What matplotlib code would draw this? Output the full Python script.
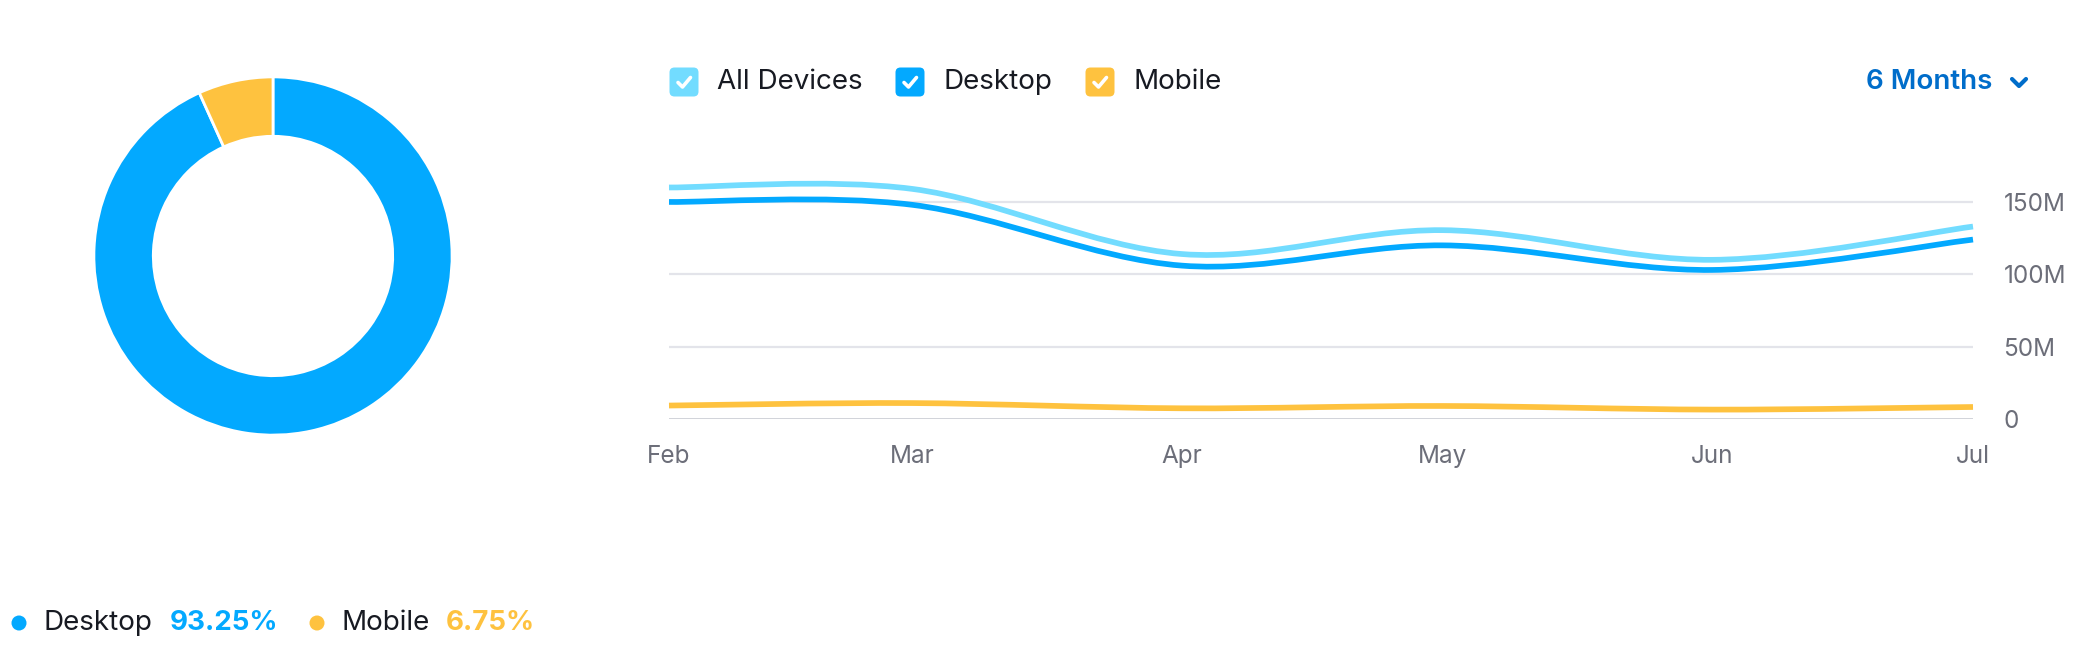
import matplotlib
matplotlib.use("Agg")
import matplotlib.pyplot as plt
import matplotlib.dates as mdates
from matplotlib.path import Path
from matplotlib.patches import PathPatch, FancyBboxPatch, Circle
import datetime as dt

plt.rcParams['font.family'] = ['Inter', 'DejaVu Sans']

# data
months = ["Feb", "Mar", "Apr", "May", "Jun", "Jul"]
month_dates = [dt.date(2025, m, 1) for m in range(2, 8)]
all_devices = [160, 159, 114, 130.5, 110, 133]   # millions
desktop = [150, 148, 106, 120, 103, 124]
mobile = [9.3, 11, 7.4, 9, 6.5, 8.3]
share_labels = ["Desktop", "Mobile"]
share_values = [93.25, 6.75]
y_ticks = [0, 50, 100, 150]
y_tick_labels = ["0", "50M", "100M", "150M"]

C_ALL = "#72DCFF"
C_DESK = "#03A9FF"
C_MOB = "#FEC23F"
C_TEXT = "#171A22"
C_GRAY = "#6C6E79"

W, H = 2098, 656
fig = plt.figure(figsize=(W / 100, H / 100), dpi=100)


def px_axes(left, top, width, height):
    return fig.add_axes([left / W, 1 - (top + height) / H, width / W, height / H])


def spline_path(xs, ys):
    # catmull-rom as cubic bezier segments
    n = len(xs)
    pts = list(zip(xs, ys))
    ext = [pts[0]] + pts + [pts[-1]]
    verts = [pts[0]]
    codes = [Path.MOVETO]
    for i in range(n - 1):
        p0, p1, p2, p3 = ext[i], ext[i + 1], ext[i + 2], ext[i + 3]
        c1 = (p1[0] + (p2[0] - p0[0]) / 6, p1[1] + (p2[1] - p0[1]) / 6)
        c2 = (p2[0] - (p3[0] - p1[0]) / 6, p2[1] - (p3[1] - p1[1]) / 6)
        verts += [c1, c2, p2]
        codes += [Path.CURVE4] * 3
    return Path(verts, codes)


# ---- line chart ----
ax = px_axes(669, 140, 1973 - 669, 279)
xnum = mdates.date2num(month_dates)
ax.set_xlim(xnum[0], xnum[-1])
ax.set_ylim(0, 279 / 1.447)
for y in y_ticks[1:]:
    ax.axhline(y, color="#E3E4EA", lw=1.6, zorder=0)
ax.axhline(0, color="#C4C6CE", lw=1.8, zorder=0)
for series, col in [(mobile, C_MOB), (all_devices, C_ALL), (desktop, C_DESK)]:
    ax.add_patch(PathPatch(spline_path(xnum, series), fill=False, edgecolor=col,
                           lw=4.1, capstyle="butt", clip_on=False, zorder=3))
for s in ax.spines.values():
    s.set_visible(False)
ax.set_xticks(xnum)
ax.set_xticklabels(months)
ax.set_yticks(y_ticks)
ax.set_yticklabels(y_tick_labels)
ax.yaxis.tick_right()
ax.tick_params(axis="both", length=0, labelsize=17.5, labelcolor=C_GRAY)
ax.tick_params(axis="x", pad=19)
ax.tick_params(axis="y", pad=22)
ax.patch.set_alpha(0)

# ---- donut ----
dax = px_axes(273 - 180, 256 - 180, 360, 360)
dax.pie(share_values, colors=[C_DESK, C_MOB], startangle=90, counterclock=False,
        radius=0.995, wedgeprops=dict(width=0.33, edgecolor="white", linewidth=2))
dax.set_xlim(-1, 1)
dax.set_ylim(-1, 1)
dax.set_aspect("equal")
dax.axis("off")

# ---- overlay for legend / header texts (pixel coords) ----
ov = fig.add_axes([0, 0, 1, 1])
ov.set_xlim(0, W)
ov.set_ylim(H, 0)
ov.axis("off")
ov.patch.set_alpha(0)

LY = 82
legend_items = [("All Devices", C_ALL, 684), ("Desktop", C_DESK, 910), ("Mobile", C_MOB, 1100)]
for label, col, cx in legend_items:
    s = 29
    ov.add_patch(FancyBboxPatch((cx - s / 2 + 5, LY - s / 2 + 5), s - 10, s - 10,
                                boxstyle="round,pad=5", fc=col, ec="none"))
    ov.plot([cx - 6, cx - 1.5, cx + 6.5], [LY + 0.5, LY + 5, LY - 4.5], color="white", lw=2.6,
            solid_capstyle="round", solid_joinstyle="round")
    ov.text(cx + 33, LY, label, fontsize=20, color=C_TEXT, va="center", ha="left")

ov.text(1866, LY, "6 Months", fontsize=20, color="#006DCA", weight="semibold",
        va="center", ha="left")
ov.plot([2012, 2019, 2026], [LY - 3, LY + 4, LY - 3], color="#006DCA", lw=3,
        solid_capstyle="round", solid_joinstyle="round")

# bottom legend
BY = 623
for label, col, cx in [(share_labels[0], C_DESK, 19), (share_labels[1], C_MOB, 317)]:
    ov.add_patch(Circle((cx, BY), 7.5, fc=col, ec="none"))
    ov.text(cx + 25, BY, label, fontsize=20, color=C_TEXT, va="center", ha="left")
for val, col, x in [(share_values[0], C_DESK, 170), (share_values[1], C_MOB, 446)]:
    ov.text(x, BY, f"{val:.2f}%", fontsize=20, color=col, weight="bold",
            va="center", ha="left")

fig.savefig("out.png", dpi=100)
